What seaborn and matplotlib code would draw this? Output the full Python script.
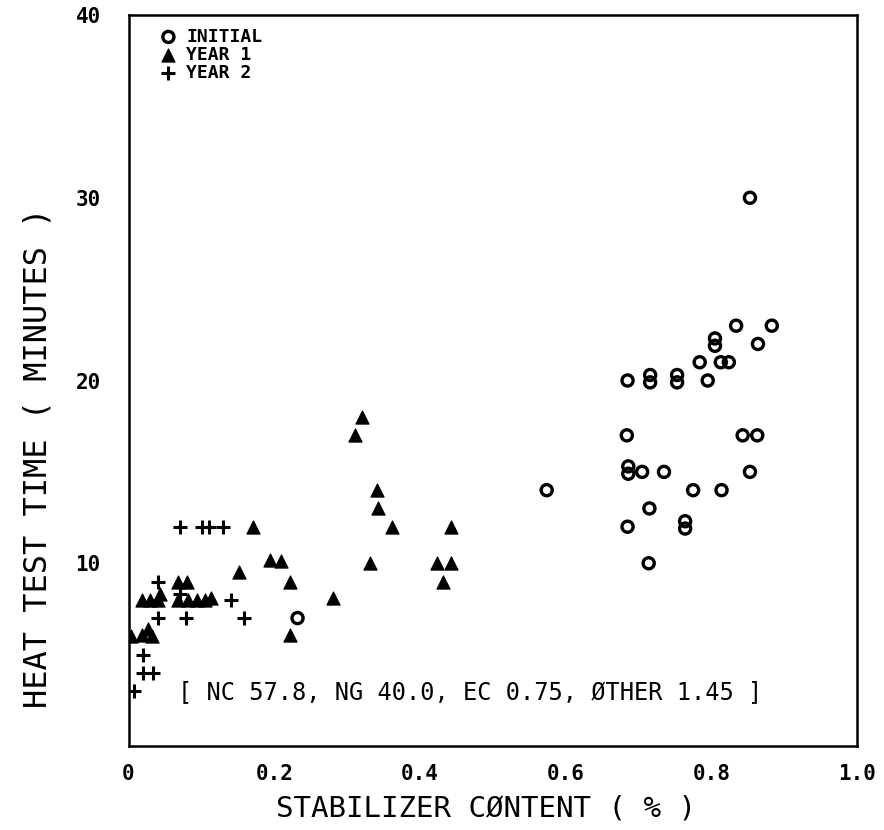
import matplotlib
matplotlib.use("Agg")
import matplotlib.pyplot as plt
import seaborn as sns
import pandas as pd

# Stabilizer content (%) vs heat test time (minutes)
initial_x = [0.232, 0.574, 0.684, 0.685, 0.685, 0.686, 0.686, 0.705, 0.714, 0.715,
             0.716, 0.716, 0.735, 0.753, 0.753, 0.764, 0.764, 0.775, 0.784, 0.795,
             0.805, 0.805, 0.813, 0.814, 0.824, 0.834, 0.843, 0.853, 0.853, 0.863,
             0.864, 0.883]
initial_y = [7, 14, 17, 20, 12, 14.9, 15.3, 15, 10, 13,
             19.9, 20.3, 15, 19.9, 20.3, 11.9, 12.3, 14, 21, 20,
             21.9, 22.3, 21, 14, 21, 23, 17, 30, 15, 17,
             22, 23]

year1_x = [0.004, 0.018, 0.027, 0.032, 0.018, 0.030, 0.041, 0.043, 0.068, 0.080,
           0.068, 0.082, 0.094, 0.105, 0.113, 0.151, 0.171, 0.194, 0.209, 0.221,
           0.221, 0.281, 0.311, 0.321, 0.331, 0.341, 0.342, 0.362, 0.423, 0.432,
           0.442, 0.443]
year1_y = [6.0, 6.1, 6.4, 6.0, 8, 8, 8, 8.3, 9, 9,
           8, 8, 8, 8, 8.1, 9.5, 12, 10.2, 10.1, 9.0,
           6.1, 8.1, 17, 18, 10, 14, 13, 12, 10, 9,
           10, 12]

year2_x = [0.007, 0.020, 0.033, 0.020, 0.041, 0.079, 0.158, 0.071, 0.141, 0.041,
           0.071, 0.101, 0.111, 0.130]
year2_y = [3, 4, 4, 5, 7, 7, 7, 8.3, 8, 9,
           12, 12, 12, 12]

series_names = ["INITIAL", "YEAR 1", "YEAR 2"]
x_ticks = [0, 0.2, 0.4, 0.6, 0.8, 1.0]
x_tick_labels = ["0", "0.2", "0.4", "0.6", "0.8", "1.0"]
y_ticks = [10, 20, 30, 40]
y_tick_labels = ["10", "20", "30", "40"]
composition_note = "[ NC 57.8, NG 40.0, EC 0.75, ØTHER 1.45 ]"

sns.set_theme(style="white")
plt.rcParams["font.family"] = ["DejaVu Sans Mono", "DejaVu Sans"]
plt.rcParams["text.color"] = "black"

fig = plt.figure(figsize=(8.84, 8.30), dpi=100)
ax = fig.add_axes([0.1454, 0.1012, 0.8241, 0.8807])

df_init = pd.DataFrame({"x": initial_x, "y": initial_y})
df_y1 = pd.DataFrame({"x": year1_x, "y": year1_y})
df_y2 = pd.DataFrame({"x": year2_x, "y": year2_y})

sns.scatterplot(data=df_init, x="x", y="y", ax=ax, marker="o", s=64,
                facecolor="none", edgecolor="black", linewidth=2.4,
                label=series_names[0], zorder=3)
sns.scatterplot(data=df_y1, x="x", y="y", ax=ax, marker="^", s=90,
                color="black", edgecolor="black", linewidth=0.8,
                label=series_names[1], zorder=3)
sns.scatterplot(data=df_y2, x="x", y="y", ax=ax, marker="+", s=115,
                color="black", linewidth=2.2,
                label=series_names[2], zorder=3)

ax.set_xlim(0, 1.0)
ax.set_ylim(0, 40)
ax.set_xticks(x_ticks)
ax.set_xticklabels(x_tick_labels)
ax.set_yticks(y_ticks)
ax.set_yticklabels(y_tick_labels)
ax.tick_params(axis="both", direction="in", colors="black", width=1.6,
               labelsize=15, labelcolor="black")
ax.tick_params(axis="x", length=8, pad=13)
ax.tick_params(axis="y", length=11, pad=20)
for lab in ax.get_xticklabels() + ax.get_yticklabels():
    lab.set_fontweight("bold")

for sp in ax.spines.values():
    sp.set_visible(True)
    sp.set_color("black")
    sp.set_linewidth(1.8)

ax.set_xlabel("STABILIZER CØNTENT ( % )", fontsize=21, color="black", va="center")
ax.xaxis.set_label_coords(0.491, -0.085)
ax.set_ylabel("HEAT TEST TIME ( MINUTES )", fontsize=23, color="black", va="center")
ax.yaxis.set_label_coords(-0.124, 0.395)

ax.text(0.469, 2.95, composition_note, fontsize=17, color="black",
        ha="center", va="center")

leg = ax.legend(loc="upper left", bbox_to_anchor=(0.025, 1.0), frameon=False,
                prop={"family": "DejaVu Sans Mono", "size": 13, "weight": "bold"},
                labelcolor="black", labelspacing=0.0, handletextpad=0.5,
                handlelength=1.0, borderpad=0.2)

fig.savefig("out.png", dpi=100)
